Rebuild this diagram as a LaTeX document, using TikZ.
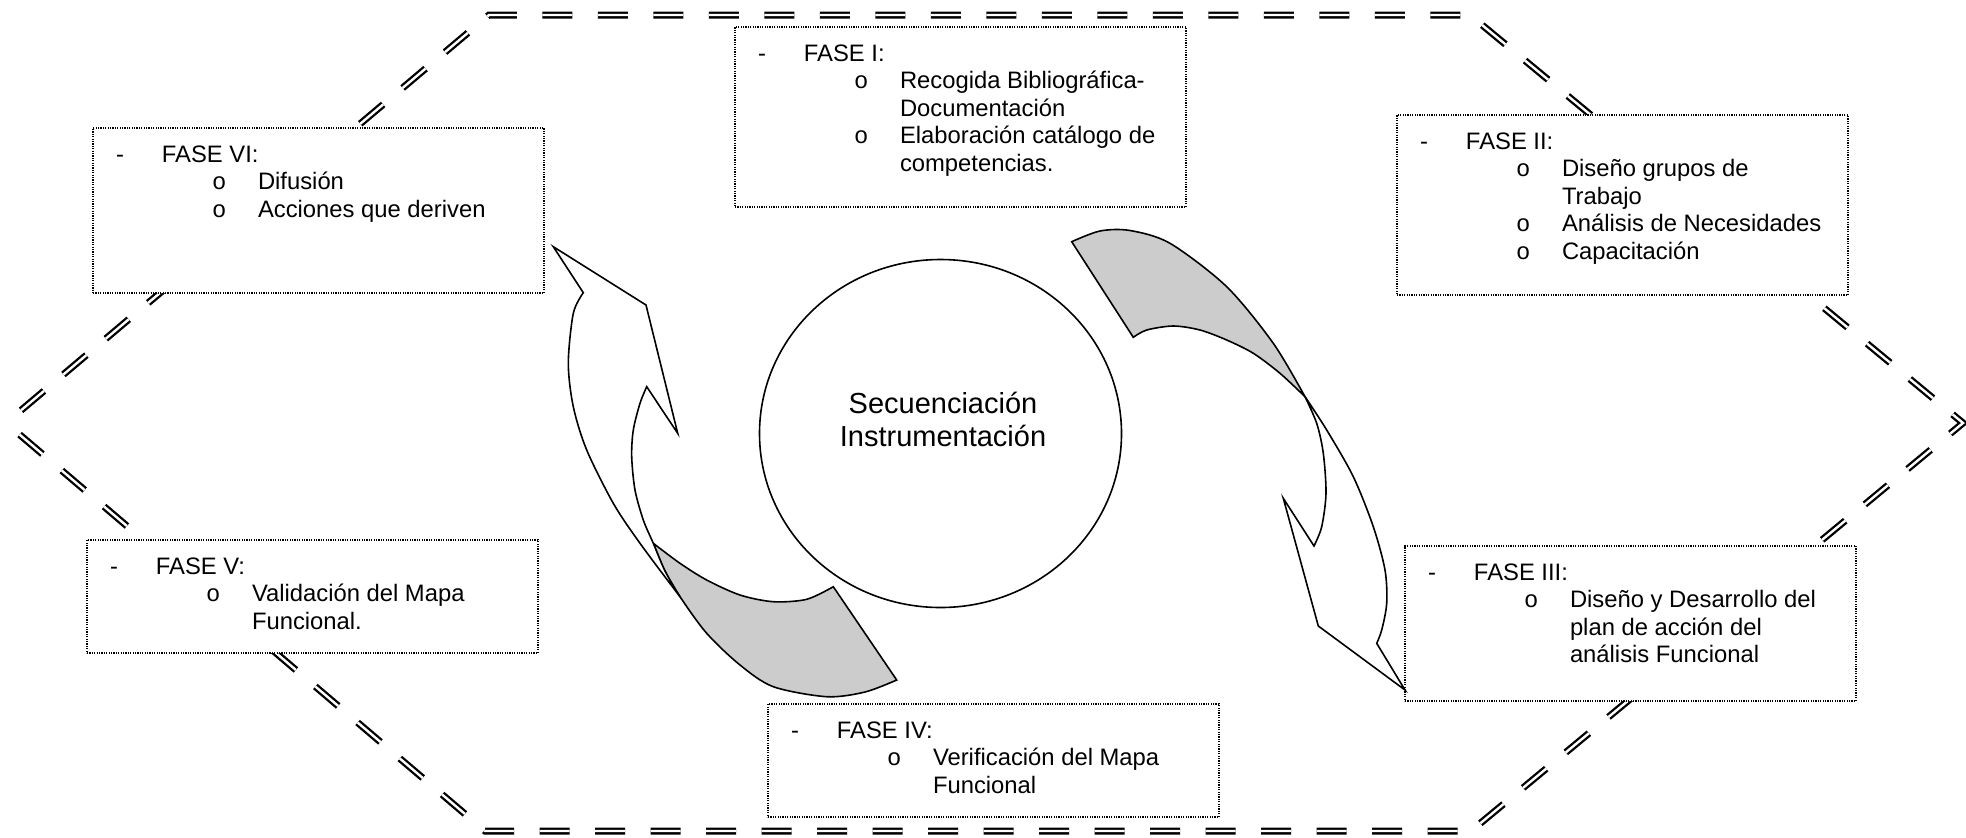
\documentclass[tikz,border=0pt]{standalone}
\usepackage{fontspec}
\setmainfont{Liberation Sans}
\newfontfamily\bulletfont{Liberation Mono}
\usetikzlibrary{shapes.geometric}
\definecolor{shade}{gray}{0.8}
\newcommand\phasehead[1]{\leavevmode\rule{0pt}{17pt}\rlap{\hspace*{11.5pt}-}\hspace*{34.5pt}#1\par}
\newcommand\phaseitem[1]{\leavevmode\rlap{\hspace*{59.5pt}{\bulletfont o}}\hspace*{82.5pt}#1\par}
\newcommand\phasecont[1]{\leavevmode\hspace*{82.5pt}#1\par}
\newcommand\phasetext[2]{\parbox[c][#1][t]{225.5pt}{\setlength\parindent{0pt}\setlength\parskip{0pt}\fontsize{11.9pt}{13.75pt}\selectfont #2}}
\begin{document}
\begin{tikzpicture}[x=0.5pt,y=-0.5pt,
  hexline/.style={draw=black, double=white, double distance=1.2pt, line width=1.15pt, dash pattern=on 15pt off 12.75pt, dash phase=17.9pt, line join=miter},
  phasebox/.style={draw=black, fill=white, line width=0.6pt, dash pattern=on 0.6pt off 0.6pt, inner sep=0pt, outer sep=0pt, anchor=north west},
  arrowline/.style={draw=black, line width=0.8pt, line join=miter},
  centerfont/.style={font=\fontsize{14.5pt}{16.5pt}\selectfont, anchor=base, inner sep=0pt}]
\useasboundingbox (0,0) rectangle (1966,837);
% hexagon outline
\coordinate (h1) at (489,15);
\coordinate (h2) at (1470,15);
\coordinate (h3) at (1963,423);
\coordinate (h4) at (1471,831);
\coordinate (h5) at (485,831);
\coordinate (h6) at (6,423);
\draw[hexline] (h6) -- (h1) -- (h2) -- (h3) -- (h4) -- (h5) -- cycle;
% phase boxes
\node[phasebox] (f1) at (735,27) {\phasetext{90pt}{%
  \phasehead{FASE I:}
  \phaseitem{Recogida Bibliográfica-}
  \phasecont{Documentación}
  \phaseitem{Elaboración catálogo de}
  \phasecont{competencias.}}};
\node[phasebox] (f2) at (1397,115) {\phasetext{90pt}{%
  \phasehead{FASE II:}
  \phaseitem{Diseño grupos de}
  \phasecont{Trabajo}
  \phaseitem{Análisis de Necesidades}
  \phaseitem{Capacitación}}};
\node[phasebox] (f3) at (1405,546) {\phasetext{77.5pt}{%
  \phasehead{FASE III:}
  \phaseitem{Diseño y Desarrollo del}
  \phasecont{plan de acción del}
  \phasecont{análisis Funcional}}};
\node[phasebox] (f4) at (768,704) {\phasetext{56.5pt}{%
  \phasehead{FASE IV:}
  \phaseitem{Verificación del Mapa}
  \phasecont{Funcional}}};
\node[phasebox] (f5) at (87,540) {\phasetext{56.5pt}{%
  \phasehead{FASE V:}
  \phaseitem{Validación del Mapa}
  \phasecont{Funcional.}}};
\node[phasebox] (f6) at (93,128) {\phasetext{82.5pt}{%
  \phasehead{FASE VI:}
  \phaseitem{Difusión}
  \phaseitem{Acciones que deriven}}};
% central circle
\node[draw, ellipse, line width=0.8pt, minimum width=181pt, minimum height=174pt, inner sep=0pt] (circ) at (940.5,433.5) {};
\node[centerfont] (sec1) at (943,413) {Secuenciación};
\node[centerfont] (sec2) at (943,446) {Instrumentación};
% left curved arrow: shaded tail
\filldraw[arrowline, fill=shade]
  plot[smooth] coordinates {(833.3,586.7) (806.7,599.3) (773.3,601.7) (740,595) (706.7,580) (680,563.3) (653.3,543.3)}
  -- plot[smooth] coordinates {(653.3,543.3) (665,571) (680,596.7) (706.7,633.3) (740,665) (773.3,686.7) (826.7,696.7) (865,692) (896.7,680)}
  -- cycle;
% left curved arrow: body and head
\filldraw[arrowline, fill=white]
  (583.3,292.7) -- (553.3,246.7) -- (646,305) -- (677.7,433.3)
  -- plot[smooth] coordinates {(646.7,386.7) (640,403.3) (633.3,430) (631.7,456.7) (635,490) (643.3,520) (653.3,543.3) (665,571) (680,596.7)}
  -- plot[smooth] coordinates {(680,596.7) (640,543.3) (613.3,503.3) (586.7,450) (573.3,406.7) (568.3,363.3) (573.3,313.3) (583.3,292.7)}
  -- cycle;
% right curved arrow: shaded tail
\filldraw[arrowline, fill=shade]
  (1071.7,241.7) -- (1133.3,337.3)
  -- plot[smooth] coordinates {(1133.3,337.3) (1146.7,330) (1173.3,326) (1200,330) (1226.7,340) (1253.3,353.3) (1280,373.3) (1305,396.7)}
  -- plot[smooth] coordinates {(1305,396.7) (1273.3,343.3) (1226.7,286.7) (1170,243.3) (1130,230.5) (1100,231) (1071.7,241.7)}
  -- cycle;
% right curved arrow: body and head
\filldraw[arrowline, fill=white]
  plot[smooth] coordinates {(1305,396.7) (1326.7,430) (1353.3,476.7) (1373.3,526.7) (1385,570) (1386.7,603.3) (1381.7,630) (1376.7,643.3)}
  -- (1405,690) -- (1318.3,626) -- (1283.3,498.3)
  -- plot[smooth] coordinates {(1314,546) (1321.7,526.7) (1326,493.3) (1323.3,453.3) (1316.7,423.3) (1305,396.7)}
  -- cycle;
\end{tikzpicture}
\end{document}
